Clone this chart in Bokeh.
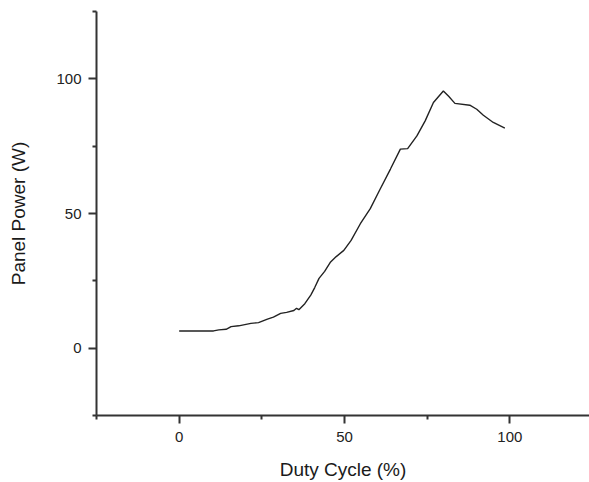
from bokeh.plotting import figure
from bokeh.models import FixedTicker, Range1d
from bokeh.embed import file_html
from bokeh.resources import INLINE

duty_cycle = [0, 10.4, 12, 14.2, 15.7, 18, 21.7, 24, 26.7, 28.5, 30.7, 32.5, 34.7, 35.5, 36.2,
              38, 39.8, 41, 42.3, 44, 45.8, 47.5, 49.8, 52, 54.8, 57.8, 60.8, 63.9, 66.9, 69.1,
              71.9, 74.4, 76.9, 79.9, 81.5, 83.4, 87.9, 90, 92, 95, 98.5]
panel_power = [6.4, 6.4, 6.8, 7.0, 8.0, 8.3, 9.2, 9.5, 10.8, 11.5, 12.9, 13.3, 14.0, 14.8, 14.3,
               16.5, 19.7, 22.5, 25.9, 28.5, 32.0, 34.0, 36.3, 40.0, 46.2, 51.8, 59.1, 66.5, 73.9, 74.1,
               78.8, 84.4, 91.2, 95.5, 93.5, 90.9, 90.2, 88.7, 86.5, 83.8, 81.7]

x_major = [0, 50, 100]
x_minor = [-25, 25, 75, 125]
y_major = [0, 50, 100]
y_minor = [-25, 25, 75, 125]

p = figure(width=589, height=482, output_backend="svg", toolbar_location=None,
           x_range=Range1d(-25, 124.1), y_range=Range1d(-25, 125),
           min_border_left=96, min_border_right=0, min_border_top=11, min_border_bottom=65)
p.outline_line_color = None
p.xgrid.visible = False
p.ygrid.visible = False

p.line(duty_cycle, panel_power, line_color="#222222", line_width=1.4)

p.xaxis.ticker = FixedTicker(ticks=x_major, minor_ticks=x_minor)
p.yaxis.ticker = FixedTicker(ticks=y_major, minor_ticks=y_minor)
p.xaxis.axis_label = "Duty Cycle (%)"
p.yaxis.axis_label = "Panel Power (W)"

for ax in (p.xaxis, p.yaxis):
    ax.axis_line_color = "#333333"
    ax.axis_line_width = 2
    ax.major_tick_line_color = "#333333"
    ax.major_tick_line_width = 2
    ax.minor_tick_line_color = "#333333"
    ax.minor_tick_line_width = 2
    ax.major_tick_out = 8
    ax.major_tick_in = 0
    ax.minor_tick_out = 4
    ax.minor_tick_in = 0
    ax.major_label_text_font = "Liberation Sans"
    ax.major_label_text_font_size = "15px"
    ax.major_label_text_color = "#222222"
    ax.axis_label_text_font = "Liberation Sans"
    ax.axis_label_text_font_size = "19px"
    ax.axis_label_text_font_style = "normal"
    ax.axis_label_text_color = "#1a1a1a"

p.xaxis.major_label_standoff = 8
p.xaxis.axis_label_standoff = 14
p.yaxis.major_label_standoff = 7
p.yaxis.axis_label_standoff = 24

open("out.html", "w").write(file_html(p, INLINE))
